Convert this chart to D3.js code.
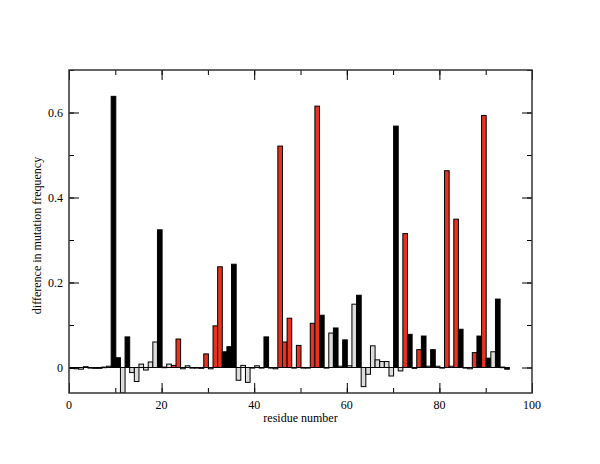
<!doctype html>
<html>
<head>
<meta charset="utf-8">
<script src="https://cdn.jsdelivr.net/npm/d3@7"></script>
<style>
body { margin: 0; background: #fff; }
text { font-family: "Liberation Serif", "DejaVu Serif", serif; fill: #000; }
</style>
</head>
<body>
<div id="chart"></div>
<script>
// difference in mutation frequency per residue
var residues = d3.range(1, 96);
var values = [
  -0.002, -0.003, -0.004, 0.002, -0.001, -0.002, -0.002, 0.001, 0.003, 0.638,
   0.023, -0.060, 0.072, -0.012, -0.033, 0.008, -0.006, 0.013, 0.060, 0.324,
   0.001, 0.008, 0.005, 0.067, -0.003, 0.004, 0.000, 0.000, -0.002, 0.032,
  -0.003, 0.098, 0.237, 0.037, 0.049, 0.243, -0.030, 0.005, -0.035, -0.001,
   0.004, -0.001, 0.072, 0.000, -0.003, 0.521, 0.060, 0.116, 0.000, 0.052,
   0.000, -0.001, 0.104, 0.615, 0.123, 0.000, 0.081, 0.093, 0.003, 0.065,
   0.004, 0.149, 0.170, -0.045, -0.016, 0.051, 0.018, 0.014, 0.014, -0.020,
   0.568, -0.008, 0.315, 0.078, -0.002, 0.042, 0.074, 0.003, 0.042, 0.003,
   0.000, 0.463, 0.003, 0.349, 0.090, 0.000, -0.003, 0.035, 0.074, 0.593,
   0.022, 0.037, 0.161, 0.001, -0.004
];
// k = black, r = red, g = grey
var groups = (
  "ggggggggg" + "k" +
  "kgkggggggk" +
  "ggrrggggg" + "r" +
  "grrkkkgggg" +
  "ggkggrrrg" + "r" +
  "ggrrkgg" + "kg" + "k" +
  "ggkgggggg" + "g" +
  "kgrkgrkgkg" +
  "grgrkggrkr" +
  "kgkgk"
).split("");
var xTicks = [0, 20, 40, 60, 80, 100];
var yTicks = [0, 0.2, 0.4, 0.6];

var colors = { k: "#000000", r: "#e8321e", g: "#dcdcdc" };

var W = 600, H = 464;
var margin = {top: 70, right: 68, bottom: 71, left: 69},
    width = W - margin.left - margin.right,
    height = H - margin.top - margin.bottom;

var x = d3.scaleLinear().domain([0, 100]).range([0, width]);
var y = d3.scaleLinear().domain([-0.06, 0.7]).range([height, 0]);

var svg = d3.select("#chart").append("svg")
    .attr("width", W)
    .attr("height", H)
  .append("g")
    .attr("transform", "translate(" + margin.left + "," + margin.top + ")");

svg.append("clipPath").attr("id", "clip")
  .append("rect").attr("width", width).attr("height", height);

var data = residues.map(function(r, i) {
  return {res: r, value: values[i], group: groups[i]};
});

// bars
svg.append("g").attr("clip-path", "url(#clip)")
  .selectAll("rect")
  .data(data)
  .enter().append("rect")
    .attr("x", function(d) { return x(d.res - 1) + 0.5; })
    .attr("width", function(d) { return x(d.res) - x(d.res - 1); })
    .attr("y", function(d) { return Math.min(y(d.value), y(0)); })
    .attr("height", function(d) { return Math.max(Math.abs(y(d.value) - y(0)), 0.6); })
    .attr("fill", function(d) { return colors[d.group]; })
    .attr("stroke", "#000")
    .attr("stroke-width", 1);

// ticks inside frame, mirrored on all sides
function tickGroup(axis) {
  var g = svg.append("g").call(axis);
  g.select(".domain").remove();
  g.selectAll("line").attr("stroke", "#000");
  return g;
}
var xMinor = d3.range(0, 101, 10), yMinor = d3.range(-0.0, 0.71, 0.1);

var gxb = tickGroup(d3.axisTop(x).tickValues(xMinor).tickSize(5).tickFormat(""));
gxb.attr("transform", "translate(0," + height + ")");
tickGroup(d3.axisBottom(x).tickValues(xMinor).tickSize(5).tickFormat(""));
var gxb2 = tickGroup(d3.axisTop(x).tickValues(xTicks).tickSize(10).tickFormat(""));
gxb2.attr("transform", "translate(0," + height + ")");
tickGroup(d3.axisBottom(x).tickValues(xTicks).tickSize(10).tickFormat(""));

tickGroup(d3.axisRight(y).tickValues(yMinor).tickSize(5).tickFormat(""));
var gyr = tickGroup(d3.axisLeft(y).tickValues(yMinor).tickSize(5).tickFormat(""));
gyr.attr("transform", "translate(" + width + ",0)");
tickGroup(d3.axisRight(y).tickValues(yTicks).tickSize(10).tickFormat(""));
var gyr2 = tickGroup(d3.axisLeft(y).tickValues(yTicks).tickSize(10).tickFormat(""));
gyr2.attr("transform", "translate(" + width + ",0)");

// frame
svg.append("rect")
    .attr("width", width).attr("height", height)
    .attr("fill", "none").attr("stroke", "#333").attr("stroke-width", 1.5);

// tick labels
svg.selectAll(".xl").data(xTicks).enter().append("text")
    .attr("x", function(d) { return x(d); })
    .attr("y", height + 16)
    .attr("text-anchor", "middle")
    .style("font-size", "12px")
    .text(function(d) { return d; });

svg.selectAll(".yl").data(yTicks).enter().append("text")
    .attr("x", -6)
    .attr("y", function(d) { return y(d) + 4; })
    .attr("text-anchor", "end")
    .style("font-size", "12px")
    .text(function(d) { return d; });

// axis titles
svg.append("text")
    .attr("x", width / 2)
    .attr("y", height + 29)
    .attr("text-anchor", "middle")
    .style("font-size", "12px")
    .text("residue number");

svg.append("text")
    .attr("transform", "rotate(-90)")
    .attr("x", -height / 2 - 4)
    .attr("y", -28)
    .attr("text-anchor", "middle")
    .style("font-size", "12px")
    .text("difference in mutation frequency");
</script>
</body>
</html>
